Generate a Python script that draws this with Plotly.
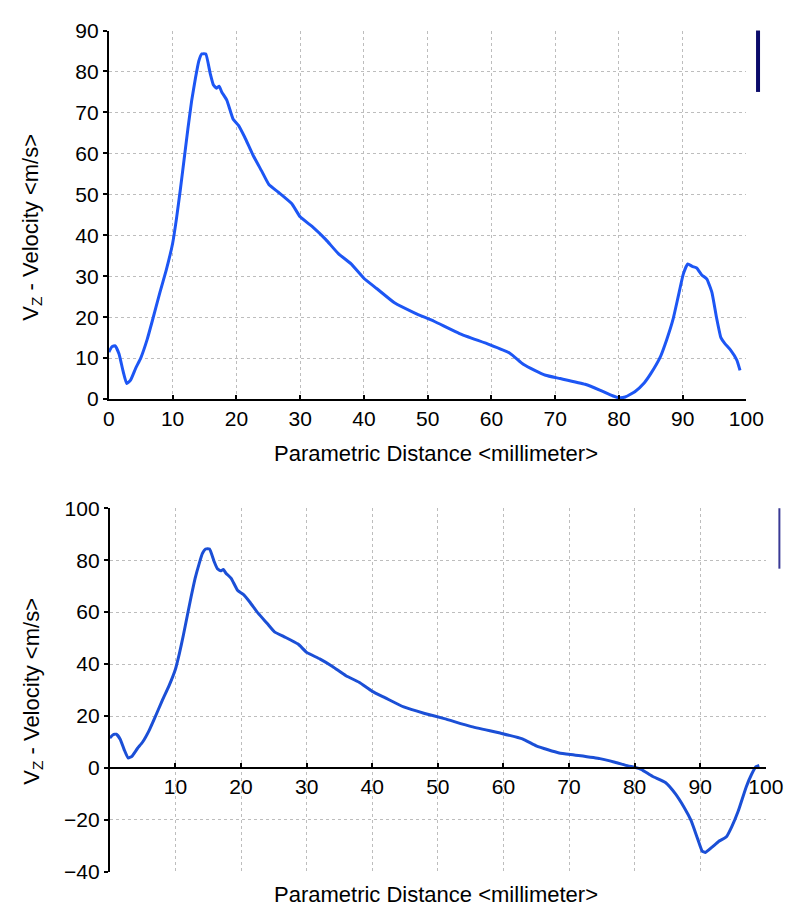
import plotly.graph_objects as go

# ---- data -------------------------------------------------------------
# shared upstream part of the profile (distance in mm, Vz in m/s)
dist_common = [0, 0.5, 1, 1.6, 2.2, 2.8, 3.4, 4.2, 5, 6, 6.8, 8, 9, 10,
               10.6, 11.2, 11.8, 12.4, 13, 13.6, 14.1, 14.6, 15.2, 15.9,
               16.4, 16.9, 17.3, 17.7, 18.5, 19.5, 20.3, 21.3, 22.6, 24,
               25.1, 26.6, 28.7, 30, 32, 34, 36, 38, 40, 42, 44.8, 48, 51,
               55, 59.7, 62.9, 65, 66.8, 68.5, 70.8, 74.7, 77, 79, 80]
vz_common = [11.5, 12.8, 13, 11, 7, 3.8, 4.6, 7.5, 10, 14.5, 19, 26, 31.5, 38,
             44, 51, 58.5, 66, 73, 78.5, 82.5, 84.3, 84.3, 79.5,
             76.7, 75.9, 76.4, 75, 73, 68.3, 66.9, 64, 59.6, 55.6,
             52.4, 50.5, 47.7, 44.5, 42, 39, 35.5, 33, 29.5, 27, 23.5, 21, 19,
             16, 13.3, 11.2, 8.5, 7, 5.8, 5, 3.6, 2.2, 0.8, 0.3]

# downstream tail, magnitude profile (upper chart)
dist_tail_top = [81, 82.5, 84, 85, 86.5, 87.5, 88.5, 89.3, 90.1, 90.8, 91.5,
                 92.2, 93, 93.8, 94.6, 95.3, 96, 96.6, 97.5, 98.5, 99]
vz_tail_top = [0.5, 1.8, 4, 6.2, 10.3, 14.5, 19.5, 25, 30.5, 33, 32.4,
               32, 30.3, 29.3, 26, 20, 15, 13.6, 12, 9.5, 7]

# downstream tail, signed profile (lower chart)
dist_tail_bot = [81, 82.7, 84.7, 86.2, 87.6, 88.6, 89.6, 90.3, 90.8, 91.8,
                 92.8, 94, 94.8, 95.8, 97, 97.8, 98.5, 99]
vz_tail_bot = [-0.5, -3.2, -5.6, -9.9, -15.4, -20.2, -27.2, -32, -32.5,
               -30.5, -28.3, -26.5, -22.7, -16.6, -7.4, -2.6, 0.5, 1]

x_ticks_top = [0, 10, 20, 30, 40, 50, 60, 70, 80, 90, 100]
y_ticks_top = [0, 10, 20, 30, 40, 50, 60, 70, 80, 90]
x_ticks_bot = [10, 20, 30, 40, 50, 60, 70, 80, 90, 100]
y_ticks_bot = [-40, -20, 0, 20, 40, 60, 80, 100]

x_title = "Parametric Distance &lt;millimeter&gt;"
y_title = "V<sub>Z</sub> - Velocity &lt;m/s&gt;"

# ---- layout geometry (paper fractions) ---------------------------------
W, H = 810, 917


def fx(px):
    return px / W


def fy(py):
    return (H - py) / H


top_xdom = [fx(106), fx(763)]
top_ydom = [fy(397), fy(19)]
bot_xdom = [fx(107), fx(783)]
bot_ydom = [fy(882), fy(509)]
bot_range = [-40, 100]
zero_pos = bot_ydom[0] + (bot_ydom[1] - bot_ydom[0]) * (0 - bot_range[0]) / (bot_range[1] - bot_range[0])

FONT = "Liberation Sans, Arial, Helvetica, sans-serif"
GRID = "#bdbdbd"

fig = go.Figure()

fig.add_trace(go.Scatter(
    x=dist_common + dist_tail_top, y=vz_common + vz_tail_top,
    mode="lines", line=dict(color="#1d56f4", width=3, shape="spline", smoothing=0.4),
    xaxis="x", yaxis="y", showlegend=False, hoverinfo="skip"))

fig.add_trace(go.Scatter(
    x=dist_common + dist_tail_bot, y=vz_common + vz_tail_bot,
    mode="lines", line=dict(color="#1b4fd6", width=3, shape="spline", smoothing=0.4),
    xaxis="x2", yaxis="y2", showlegend=False, hoverinfo="skip"))

axis_common = dict(
    showgrid=True, gridcolor=GRID, gridwidth=1, griddash="dot",
    showline=True, linecolor="black", linewidth=2,
    ticklen=4, tickwidth=2, tickcolor="black",
    tickfont=dict(family=FONT, size=21, color="black"),
    zeroline=False, fixedrange=True,
)

fig.update_layout(
    width=W, height=H,
    margin=dict(l=0, r=0, t=0, b=0),
    paper_bgcolor="white", plot_bgcolor="white",
    xaxis=dict(domain=top_xdom, anchor="y", range=[0, 100], ticks="inside",
               tickmode="array", tickvals=x_ticks_top, **axis_common),
    yaxis=dict(domain=top_ydom, anchor="x", range=[0, 90], ticks="outside",
               tickmode="array", tickvals=y_ticks_top, **axis_common),
    xaxis2=dict(domain=bot_xdom, anchor="free", position=zero_pos, range=[0, 100],
                ticks="inside",
                tickmode="array", tickvals=x_ticks_bot, **axis_common),
    yaxis2=dict(domain=bot_ydom, anchor="x2", range=bot_range, ticks="outside",
                tickmode="array", tickvals=y_ticks_bot, **axis_common),
)

# axis titles
title_font = dict(family=FONT, size=22, color="black")
fig.add_annotation(text=x_title, xref="paper", yref="paper",
                   x=fx(443), y=fy(453), showarrow=False, font=title_font,
                   xanchor="center", yanchor="middle")
fig.add_annotation(text=x_title, xref="paper", yref="paper",
                   x=fx(443), y=fy(905), showarrow=False, font=title_font,
                   xanchor="center", yanchor="middle")
fig.add_annotation(text=y_title, xref="paper", yref="paper",
                   x=fx(27), y=fy(221), showarrow=False, font=title_font,
                   textangle=-90, xanchor="center", yanchor="middle")
fig.add_annotation(text=y_title, xref="paper", yref="paper",
                   x=fx(27), y=fy(697), showarrow=False, font=title_font,
                   textangle=-90, xanchor="center", yanchor="middle")

# legend swatches (line keys without labels)
fig.add_shape(type="line", xref="paper", yref="paper",
              x0=fx(775), x1=fx(775), y0=fy(19), y1=fy(82),
              line=dict(color="#0b0b6a", width=4))
fig.add_shape(type="line", xref="paper", yref="paper",
              x0=fx(797), x1=fx(797), y0=fy(509), y1=fy(571),
              line=dict(color="#3a3a96", width=2))

fig.write_html("out.html")
